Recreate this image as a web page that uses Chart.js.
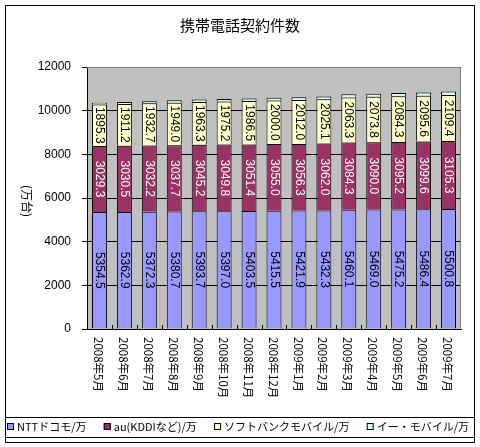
<!DOCTYPE html>
<html>
<head>
<meta charset="utf-8">
<script src="https://cdn.jsdelivr.net/npm/chart.js@4/dist/chart.umd.min.js"></script>
<style>
  html, body { margin: 0; padding: 0; background: #fff; }
  #wrap { width: 480px; height: 447px; }
</style>
</head>
<body>
<div id="wrap"><canvas id="phoneChart" width="480" height="447"></canvas></div>
<script>
// data
const months = ['2008年5月', '2008年6月', '2008年7月', '2008年8月', '2008年9月', '2008年10月', '2008年11月',
  '2008年12月', '2009年1月', '2009年2月', '2009年3月', '2009年4月', '2009年5月', '2009年6月', '2009年7月'];
const docomo = [5354.5, 5362.9, 5372.3, 5380.7, 5393.7, 5397.0, 5403.5, 5415.5, 5421.9, 5432.3, 5460.1, 5469.0, 5475.2, 5486.4, 5500.8];
const au = [3029.3, 3030.5, 3032.2, 3037.7, 3045.2, 3049.8, 3051.4, 3055.0, 3056.3, 3062.0, 3084.3, 3090.0, 3095.2, 3099.6, 3105.3];
const softbank = [1895.3, 1911.2, 1932.7, 1949.0, 1963.3, 1975.2, 1986.5, 2000.0, 2012.0, 2025.1, 2063.3, 2073.8, 2084.3, 2095.6, 2109.4];
const emobile = [88, 92, 99, 104, 108, 114, 119, 124, 128, 135, 141, 146, 150, 156, 161]; // estimated, no labels
const seriesNames = ['NTTドコモ/万', 'au(KDDIなど)/万', 'ソフトバンクモバイル/万', 'イー・モバイル/万'];
const yTicks = [0, 2000, 4000, 6000, 8000, 10000, 12000];

const cjk = '"Noto Sans CJK JP", "DejaVu Sans", sans-serif';
const latin = '"Liberation Sans", Arial, sans-serif';

// background, labels, legend and frames drawn around the chart
const decor = {
  id: 'decor',
  beforeDraw(chart) {
    const c = chart.ctx, a = chart.chartArea;
    c.save();
    c.fillStyle = '#fff';
    c.fillRect(0, 0, chart.width, chart.height);
    c.fillStyle = '#c0c0c0';
    c.fillRect(a.left, a.top, a.right - a.left, a.bottom - a.top);
    c.restore();
  },
  afterDatasetsDraw(chart) {
    const c = chart.ctx;
    c.save();
    c.font = '12px ' + latin;
    c.textAlign = 'center';
    c.textBaseline = 'middle';
    for (let d = 0; d < 3; d++) {
      const meta = chart.getDatasetMeta(d);
      const vals = chart.data.datasets[d].data;
      c.fillStyle = d === 1 ? '#fff' : '#000';
      meta.data.forEach((bar, i) => {
        c.save();
        c.translate(bar.x, (bar.y + bar.base) / 2);
        c.rotate(Math.PI / 2);
        c.fillText(vals[i].toFixed(1), 0, 0);
        c.restore();
      });
    }
    c.restore();
  },
  afterDraw(chart) {
    const c = chart.ctx, a = chart.chartArea;
    const xs = chart.scales.x;
    c.save();
    // plot frame top/right
    c.strokeStyle = '#808080';
    c.lineWidth = 1;
    c.beginPath();
    c.moveTo(a.left, a.top + 0.5);
    c.lineTo(a.right - 0.5, a.top + 0.5);
    c.lineTo(a.right - 0.5, a.bottom);
    c.stroke();

    // small inner ticks between categories
    c.strokeStyle = '#000';
    const step = (a.right - a.left) / months.length;
    c.beginPath();
    for (let i = 1; i < months.length; i++) {
      const x = Math.round(a.left + i * step) + 0.5;
      c.moveTo(x, a.bottom);
      c.lineTo(x, a.bottom - 4);
    }
    c.stroke();

    // category labels, rotated clockwise
    c.fillStyle = '#000';
    c.font = '11.5px ' + cjk;
    c.textAlign = 'left';
    c.textBaseline = 'middle';
    months.forEach((m, i) => {
      c.save();
      c.translate(xs.getPixelForValue(i) - 1, a.bottom + 8);
      c.rotate(Math.PI / 2);
      c.fillText(m, 0, 0);
      c.restore();
    });

    // title
    c.font = '15px ' + cjk;
    c.textAlign = 'center';
    c.fillText('携帯電話契約件数', 240, 25);

    // y title
    c.save();
    c.font = '12px ' + cjk;
    c.translate(27, 201);
    c.rotate(Math.PI / 2);
    c.fillText('(万台)', 0, 0);
    c.restore();

    // legend
    c.font = '11px ' + cjk;
    c.textAlign = 'left';
    const box = 7, gapIn = 3;
    const widths = seriesNames.map(s => c.measureText(s).width);
    const used = widths.reduce((s, w) => s + w + box + gapIn, 0);
    const spare = (469 - 7 - used) / (seriesNames.length - 1);
    let lx = 7;
    const ly = 427;
    chart.data.datasets.forEach((ds, i) => {
      c.fillStyle = ds.backgroundColor;
      c.fillRect(lx, ly - 4, box, box);
      c.strokeStyle = '#000';
      c.strokeRect(lx + 0.5, ly - 3.5, box - 1, box - 1);
      c.fillStyle = '#000';
      c.fillText(seriesNames[i], lx + box + gapIn, ly);
      lx += box + gapIn + widths[i] + spare;
    });

    // frames
    c.strokeStyle = '#000';
    c.strokeRect(5.5, 417.5, 469, 20);
    c.strokeRect(5.5, 5.5, 469, 437);
    c.restore();
  }
};

const colors = ['#9999ff', '#993366', '#ffffcc', '#ccffff'];
const seriesData = [docomo, au, softbank, emobile];

const ctx = document.getElementById('phoneChart').getContext('2d');
const phoneChart = new Chart(ctx, {
  type: 'bar',
  data: {
    labels: months,
    datasets: seriesData.map((vals, i) => ({
      label: seriesNames[i],
      data: vals,
      backgroundColor: colors[i],
      borderColor: '#000',
      borderWidth: 1,
      borderSkipped: 'start',
      barPercentage: 0.6,
      categoryPercentage: 1.0
    }))
  },
  options: {
    responsive: false,
    animation: false,
    devicePixelRatio: 1,
    layout: { padding: { left: 0, top: 67, right: 19, bottom: 0 } },
    plugins: {
      legend: { display: false },
      title: { display: false },
      tooltip: { enabled: false }
    },
    scales: {
      x: {
        stacked: true,
        grid: { display: false },
        border: { color: '#000', width: 1 },
        ticks: { display: false },
        afterFit: s => { s.height = 118; }
      },
      y: {
        stacked: true,
        min: 0,
        max: 12000,
        afterBuildTicks: s => { s.ticks = yTicks.map(v => ({ value: v })); },
        grid: { color: '#000', tickLength: 5, tickColor: '#000' },
        border: { color: '#000', width: 1 },
        ticks: {
          color: '#000',
          font: { family: latin, size: 12 },
          padding: 11,
          callback: v => String(v)
        },
        afterFit: s => { s.width = 87; }
      }
    }
  },
  plugins: [decor]
});
</script>
</body>
</html>
